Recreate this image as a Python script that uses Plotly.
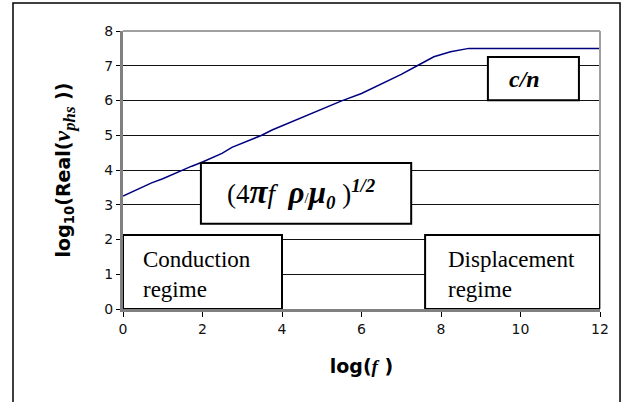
import plotly.graph_objects as go

# data
log_f = [0, 0.72, 1.0, 1.48, 1.73, 2.0, 2.49, 2.74, 3.0, 3.49, 3.75, 4.0, 4.5,
         5.0, 5.26, 5.5, 6.0, 6.5, 7.0, 7.4, 7.82, 8.24, 8.7, 9, 10, 11, 12]
log_v = [3.25, 3.63, 3.75, 4.0, 4.11, 4.23, 4.48, 4.65, 4.77, 5.0, 5.15, 5.27, 5.5,
         5.73, 5.87, 5.99, 6.2, 6.47, 6.75, 7.0, 7.26, 7.4, 7.5, 7.5, 7.5, 7.5, 7.5]
x_ticks = [0, 2, 4, 6, 8, 10, 12]
y_ticks = [0, 1, 2, 3, 4, 5, 6, 7, 8]

SERIF = "Liberation Serif, Times New Roman, serif"
SANS = "DejaVu Sans, Arial, sans-serif"

fig = go.Figure()
fig.add_trace(go.Scatter(x=log_f, y=log_v, mode="lines",
                         line=dict(color="#000080", width=1.5),
                         showlegend=False, hoverinfo="skip"))

fig.update_layout(
    width=626, height=402,
    margin=dict(l=123, r=26, t=31, b=93, autoexpand=False),
    paper_bgcolor="white", plot_bgcolor="white",
    showlegend=False,
    xaxis=dict(range=[0, 12], tickvals=x_ticks, showgrid=False, zeroline=False,
               automargin=False,
               showline=True, linecolor="#808080", linewidth=3,
               ticks="outside", ticklen=5, tickcolor="#000", tickwidth=1,
               tickfont=dict(family=SANS, size=14, color="#111"),
               title=dict(text="<b>log(<i><span style='font-family:Liberation Serif'>f</span></i> )</b>",
                          font=dict(family=SANS, size=19, color="#000"), standoff=24)),
    yaxis=dict(range=[0, 8], tickvals=y_ticks, showgrid=True, gridcolor="#111", gridwidth=1,
               automargin=False,
               zeroline=False, showline=True, linecolor="#808080", linewidth=3,
               ticks="outside", ticklen=4, tickcolor="#000", tickwidth=1,
               tickfont=dict(family=SANS, size=14, color="#111"),
               title=dict(text="<b>log<sub>10</sub>(Real(<i><span style='font-family:Liberation Serif;font-size:24px'>v<sub>phs</sub></span></i> ))</b>",
                          font=dict(family=SANS, size=19, color="#000"), standoff=29)),
)

# plot frame (top/right light gray) and outer border
fig.add_shape(type="line", xref="paper", yref="paper", x0=0, x1=1, y0=1, y1=1,
              line=dict(color="#a0a0a0", width=2), layer="above")
fig.add_shape(type="line", xref="paper", yref="paper", x0=1, x1=1, y0=0, y1=1,
              line=dict(color="#a0a0a0", width=2), layer="above")
fig.add_shape(type="rect", xref="paper", yref="paper",
              x0=-0.2306, x1=1.042, y0=-0.36, y1=1.1007,
              line=dict(color="#000", width=1.5), layer="above")

# annotation boxes
boxes = [
    dict(x0=9.18, x1=11.47, y0=6.01, y1=7.25),
    dict(x0=1.96, x1=7.25, y0=2.45, y1=4.2),
    dict(x0=0, x1=4.0, y0=0, y1=2.13),
    dict(x0=7.6, x1=12.0, y0=0, y1=2.13),
]
for b in boxes:
    fig.add_shape(type="rect", xref="x", yref="y", fillcolor="white",
                  line=dict(color="#000", width=2), layer="above", **b)

fig.add_annotation(x=10.1, y=6.63, xref="x", yref="y", showarrow=False,
                   text="<b><i>c/n</i></b>", font=dict(family=SERIF, size=24, color="#000"))
fig.add_annotation(x=4.5, y=3.33, xref="x", yref="y", showarrow=False,
                   text="(4<b><i><span style='font-size:33px'>π</span></i></b><i>f</i>  <b><i><span style='font-size:31px'>ρ</span></i></b><span style='font-size:15px'>/</span><b><i><span style='font-size:31px'>μ</span><sub>0</sub></i></b> )<sup><b><i>1/2</i></b></sup>",
                   font=dict(family=SERIF, size=27, color="#000"))
fig.add_annotation(x=0.45, y=0.98, xref="x", yref="y", showarrow=False,
                   xanchor="left", align="left",
                   text="Conduction<br>regime", font=dict(family=SERIF, size=23, color="#000"))
fig.add_annotation(x=8.13, y=0.98, xref="x", yref="y", showarrow=False,
                   xanchor="left", align="left",
                   text="Displacement<br>regime", font=dict(family=SERIF, size=23, color="#000"))

fig.write_html("out.html", config={"displayModeBar": False},
               post_script="document.body.style.margin='0px';document.body.style.overflow='hidden';")
